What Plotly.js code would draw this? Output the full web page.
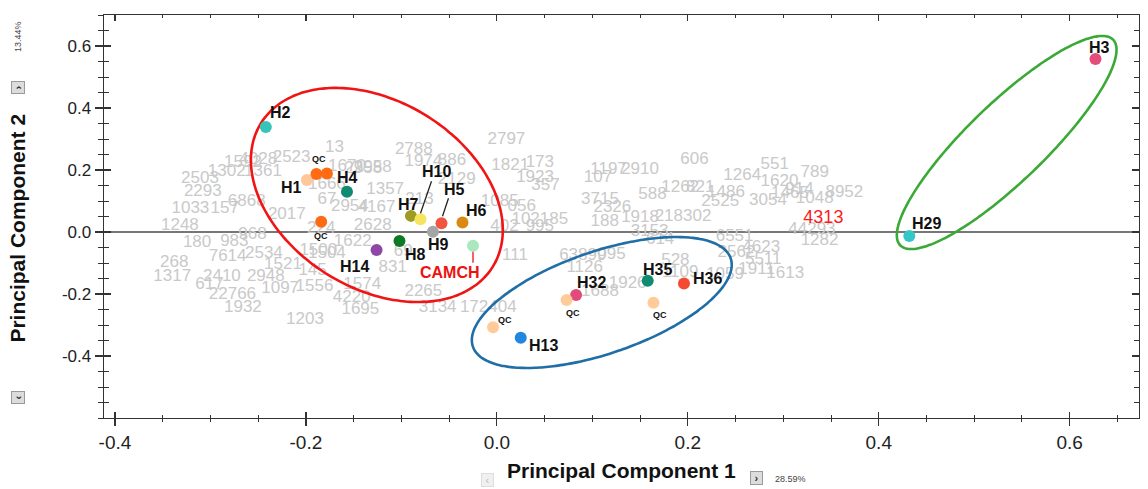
<!DOCTYPE html>
<html><head><meta charset="utf-8">
<script src="https://cdn.plot.ly/plotly-3.0.1.min.js"></script>
<style>html,body{margin:0;padding:0;background:#fff;} #chart{width:1148px;height:489px;}</style>
</head><body><div id="chart"></div>
<script>
// ---- sample scores (coloured points) ----
const sampleNames = ['H2','H1','QC','QC','H4','QC','H7','H10','H5','H6','H9','H8','H14','CAMCH','H32','QC','QC','H13','H35','H36','QC','H29','H3'];
const samplePC1 = [-0.242,-0.199,-0.189,-0.178,-0.157,-0.184,-0.090,-0.080,-0.058,-0.036,-0.067,-0.102,-0.126,-0.025,0.083,0.073,-0.004,0.025,0.158,0.196,0.164,0.432,0.627];
const samplePC2 = [0.339,0.168,0.187,0.189,0.130,0.033,0.052,0.041,0.028,0.031,0.001,-0.029,-0.058,-0.044,-0.203,-0.219,-0.307,-0.341,-0.157,-0.166,-0.228,-0.013,0.558];
const sampleLabels = ['H2','H1','QC','','H4','QC','H7','H10','H5','H6','H9','H8','H14','CAMCH','H32','QC','QC','H13','H35','H36','QC','H29','H3'];

// ---- variable labels (grey background text) ----
const varNames = ['13','2788','2797','1974','886','1821','173','1923','357','1197','2910','107','606','551','789','1264','1620','914','8952','1048','1465','3054','1486','2525','1262','821','588','3715','2326','188','1918','218302','1085','056','102185','995','402','111','63899','095','1126','3153','614','528','1688','1926','1109','172404','3134','2265','1695','4220','1574','1556','1203','1932','22766','617','2410','1317','268','7614','2534','180','983','1248','2948','1097','1521','145','1500','1622','2628','831','69','1357','4167','2954','2958','2129','213','1302','2503','2293','1033','157','4028','1592','1361','2017','67','6868','968','6551','44293','1282','4623','2562','5511','1911','1613','1059','2523','1666','1670','224','1504','2958'];
const varPC1 = [-0.170,-0.087,0.010,-0.077,-0.047,0.014,0.045,0.040,0.051,0.117,0.150,0.106,0.207,0.291,0.333,0.257,0.296,0.317,0.364,0.333,0.307,0.284,0.240,0.234,0.192,0.213,0.163,0.108,0.121,0.113,0.150,0.195,0.003,0.026,0.045,0.045,0.008,0.019,0.090,0.120,0.092,0.160,0.171,0.187,0.108,0.137,0.192,-0.009,-0.062,-0.077,-0.143,-0.152,-0.141,-0.191,-0.201,-0.266,-0.277,-0.301,-0.288,-0.340,-0.338,-0.282,-0.244,-0.314,-0.275,-0.332,-0.242,-0.227,-0.224,-0.193,-0.187,-0.151,-0.130,-0.109,-0.098,-0.117,-0.126,-0.154,-0.130,-0.042,-0.081,-0.283,-0.311,-0.308,-0.321,-0.285,-0.250,-0.266,-0.245,-0.220,-0.178,-0.262,-0.256,0.249,0.330,0.338,0.277,0.251,0.279,0.272,0.302,0.239,-0.215,-0.178,-0.157,-0.184,-0.178,-0.140];
const varPC2 = [0.271,0.265,0.297,0.226,0.229,0.213,0.223,0.174,0.148,0.200,0.200,0.174,0.232,0.216,0.190,0.181,0.161,0.135,0.126,0.106,0.123,0.100,0.126,0.097,0.142,0.142,0.119,0.103,0.077,0.032,0.045,0.048,0.097,0.081,0.039,0.016,0.016,-0.077,-0.077,-0.074,-0.116,0.000,-0.026,-0.094,-0.194,-0.168,-0.132,-0.245,-0.245,-0.194,-0.252,-0.213,-0.171,-0.177,-0.284,-0.245,-0.203,-0.171,-0.145,-0.145,-0.100,-0.081,-0.071,-0.035,-0.032,0.019,-0.145,-0.184,-0.106,-0.126,-0.061,-0.032,0.019,-0.116,-0.065,0.135,0.077,0.081,0.206,0.168,0.103,0.194,0.171,0.129,0.074,0.074,0.232,0.223,0.194,0.055,0.103,0.097,-0.010,-0.016,0.006,-0.029,-0.052,-0.068,-0.090,-0.123,-0.135,-0.139,0.239,0.152,0.210,0.010,-0.070,0.205];
const highlightNames = ['4313'];
const highlightPC1 = [0.342];
const highlightPC2 = [0.045];

// ---- groups (ellipses: centre + two semi-axis vectors, data units) ----
const groupCentreX = [-0.1257, 0.1099, 0.534];
const groupCentreY = [0.1194, -0.2274, 0.2887];
const groupAxisU = [[0.1215,-0.231],[0.1350,0.1424],[0.1115,0.3316]];
const groupAxisV = [[-0.0514,-0.2568],[0.01733,-0.1560],[0.02838,-0.0906]];

// ---- ticks ----
const xTickVals = [-0.4,-0.2,0,0.2,0.4,0.6];
const xTickText = ['-0.4','-0.2','0.0','0.2','0.4','0.6'];
const yTickVals = [-0.4,-0.2,0,0.2,0.4,0.6];
const yTickText = ['-0.4','-0.2','0.0','0.2','0.4','0.6'];

// ---- styles ----
const sampleColors = ['#35c4b9','#ffc79a','#ff6b12','#ff6b12','#108a70','#ff6b12','#9d9b22','#f6e35e','#f2553f','#d98a14','#a5a5a5','#0b7a22','#8e47a6','#a9e8bd','#e24a7c','#ffcc99','#ffcc99','#2186e0','#108a70','#f44a32','#ffcc99','#35c6c6','#e44c7c'];
const labelDx = [15,-15,3,0,1,0,-2,16,13,14,6,16,-22,-23,15,6,12,23,10,24,7,17,4];
const labelDy = [-14,8,-15,0,-14,14,-11,-48,-34,-12,13,14,17,27,-12,13,-7,8,-11,-5,12,-13,-12];
const groupColors = ['#f01414','#1f6ea6','#3aa935'];
const FONT = 'Liberation Sans, Arial, sans-serif';
const AXC = '#333';

function ellipsePath(i){
  const xs=[], ys=[]; const n=160;
  for(let k=0;k<=n;k++){
    const t=2*Math.PI*k/n, c=Math.cos(t), s=Math.sin(t);
    xs.push(groupCentreX[i]+groupAxisU[i][0]*c+groupAxisV[i][0]*s);
    ys.push(groupCentreY[i]+groupAxisU[i][1]*c+groupAxisV[i][1]*s);
  }
  return {xs, ys};
}

const traces = [];
traces.push({type:'scatter', mode:'text', x:varPC1, y:varPC2, text:varNames, hoverinfo:'skip',
  textfont:{family:FONT, size:17, color:'#c9c9c9'}, textposition:'middle center', cliponaxis:false});
traces.push({type:'scatter', mode:'text', x:highlightPC1, y:highlightPC2, text:highlightNames, hoverinfo:'skip',
  textfont:{family:FONT, size:18, color:'#ff1a1a'}, textposition:'middle center'});
for(let i=0;i<groupCentreX.length;i++){
  const e = ellipsePath(i);
  traces.push({type:'scatter', mode:'lines', x:e.xs, y:e.ys, hoverinfo:'skip',
    line:{color:groupColors[i], width:2.6, shape:'spline'}});
}
traces.push({type:'scatter', mode:'markers', x:samplePC1, y:samplePC2, text:sampleNames, hoverinfo:'text',
  marker:{size:12, color:sampleColors, line:{width:0}}});
traces.push({type:'scatter', x:[], y:[], xaxis:'x2', yaxis:'y2', hoverinfo:'skip'});

const annotations = [];
sampleLabels.forEach((lab,i)=>{
  if(!lab) return;
  const isQC = lab==='QC', isC = lab==='CAMCH';
  annotations.push({x:samplePC1[i], y:samplePC2[i], xref:'x', yref:'y', text:'<b>'+lab+'</b>', showarrow:false,
    xshift:labelDx[i], yshift:-labelDy[i],
    font:{family:FONT, size:isQC?9:16, color:isC?'#ee1111':'#111'}});
});
// axis titles and decorations
annotations.push({xref:'paper', yref:'paper', x:0.5, y:0, yshift:-52, yanchor:'middle', showarrow:false,
  text:'<b>Principal Component 1</b>', font:{family:FONT, size:21, color:'#111'}});
annotations.push({xref:'paper', yref:'paper', x:0, y:0.47, xshift:-86, xanchor:'center', yanchor:'middle', textangle:-90, showarrow:false,
  text:'<b>Principal Component 2</b>', font:{family:FONT, size:21, color:'#111'}});
annotations.push({xref:'paper', yref:'paper', x:0.5, y:0, xshift:135, yshift:-60, yanchor:'middle', showarrow:false,
  text:'<b>›</b>', font:{family:FONT, size:11, color:'#333'}, bgcolor:'#dcdcdc', bordercolor:'#9a9a9a', borderwidth:1, borderpad:0, width:11, height:12});
annotations.push({xref:'paper', yref:'paper', x:0.5, y:0, xshift:169, yshift:-61, yanchor:'middle', showarrow:false,
  text:'28.59%', font:{family:FONT, size:9, color:'#444'}});
annotations.push({xref:'paper', yref:'paper', x:0.5, y:0, xshift:-134, yshift:-62, yanchor:'middle', showarrow:false,
  text:'‹', font:{family:FONT, size:11, color:'#bbb'}, bgcolor:'#f0f0f0', bordercolor:'#dddddd', borderwidth:1, borderpad:0, width:11, height:12});
annotations.push({xref:'paper', yref:'paper', x:0, y:1, xshift:-86, yshift:-73, xanchor:'center', yanchor:'middle', textangle:-90, showarrow:false,
  text:'<b>›</b>', font:{family:FONT, size:11, color:'#333'}, bgcolor:'#dcdcdc', bordercolor:'#9a9a9a', borderwidth:1, borderpad:0, width:11, height:12});
annotations.push({xref:'paper', yref:'paper', x:0, y:1, xshift:-86, yshift:-22, xanchor:'center', yanchor:'middle', textangle:-90, showarrow:false,
  text:'13.44%', font:{family:FONT, size:9, color:'#444'}});
annotations.push({xref:'paper', yref:'paper', x:0, y:0, xshift:-86, yshift:20, xanchor:'center', yanchor:'middle', textangle:-90, showarrow:false,
  text:'<b>‹</b>', font:{family:FONT, size:11, color:'#333'}, bgcolor:'#dcdcdc', bordercolor:'#9a9a9a', borderwidth:1, borderpad:0, width:11, height:12});

// leader lines (pixel offsets anchored at the data points)
const leaders = [[7,[11,38],[0,6],'#222'],[8,[7,25],[1,7],'#222'],[13,[0,-6],[0,-17],'#ee1111']];
const shapes = leaders.map(([i,a,b,col])=>({type:'line', xref:'x', yref:'y', xsizemode:'pixel', ysizemode:'pixel',
  xanchor:samplePC1[i], yanchor:samplePC2[i], x0:a[0], y0:a[1], x1:b[0], y1:b[1], line:{color:col, width:1.3}}));

const xr = [-0.4115, 0.6726], yr = [-0.6, 0.7];
const layout = {
  width:1148, height:489, margin:{l:104, r:9, t:15, b:71}, paper_bgcolor:'#fff', plot_bgcolor:'#fff',
  showlegend:false, hovermode:'closest', font:{family:FONT, color:'#222'},
  xaxis:{range:xr, tickmode:'array', tickvals:xTickVals, ticktext:xTickText, ticks:'outside', ticklen:7, tickwidth:1.2, tickcolor:AXC,
    showline:true, linecolor:AXC, linewidth:1.4, showgrid:false, zeroline:false, tickfont:{family:FONT, size:19, color:'#222'},
    minor:{ticks:'outside', ticklen:3, tickmode:'linear', tick0:0, dtick:0.05, tickcolor:AXC, tickwidth:1, showgrid:false}},
  yaxis:{range:yr, tickmode:'array', tickvals:yTickVals, ticktext:yTickText, ticks:'outside', ticklen:8, tickwidth:1.2, tickcolor:AXC,
    showline:true, linecolor:AXC, linewidth:1.4, showgrid:false, zeroline:true, zerolinecolor:'#777', zerolinewidth:2,
    tickfont:{family:FONT, size:17, color:'#222'},
    minor:{ticks:'outside', ticklen:5, tickmode:'linear', tick0:0, dtick:0.05, tickcolor:AXC, tickwidth:1, showgrid:false}},
  xaxis2:{overlaying:'x', range:xr, tickmode:'array', tickvals:xTickVals, ticks:'inside', ticklen:6, tickwidth:1.2, tickcolor:AXC, showticklabels:false,
    showline:true, linecolor:AXC, linewidth:1.4, mirror:'ticks', showgrid:false, zeroline:false,
    minor:{ticks:'inside', ticklen:3, tickmode:'linear', tick0:0, dtick:0.05, tickcolor:AXC, tickwidth:1, showgrid:false}},
  yaxis2:{overlaying:'y', range:yr, tickmode:'array', tickvals:yTickVals, ticks:'inside', ticklen:7, tickwidth:1.2, tickcolor:AXC, showticklabels:false,
    showline:true, linecolor:AXC, linewidth:1.4, mirror:'ticks', showgrid:false, zeroline:false,
    minor:{ticks:'inside', ticklen:5, tickmode:'linear', tick0:0, dtick:0.05, tickcolor:AXC, tickwidth:1, showgrid:false}},
  annotations, shapes
};
Plotly.newPlot('chart', traces, layout, {displayModeBar:false, staticPlot:true});
</script></body></html>
